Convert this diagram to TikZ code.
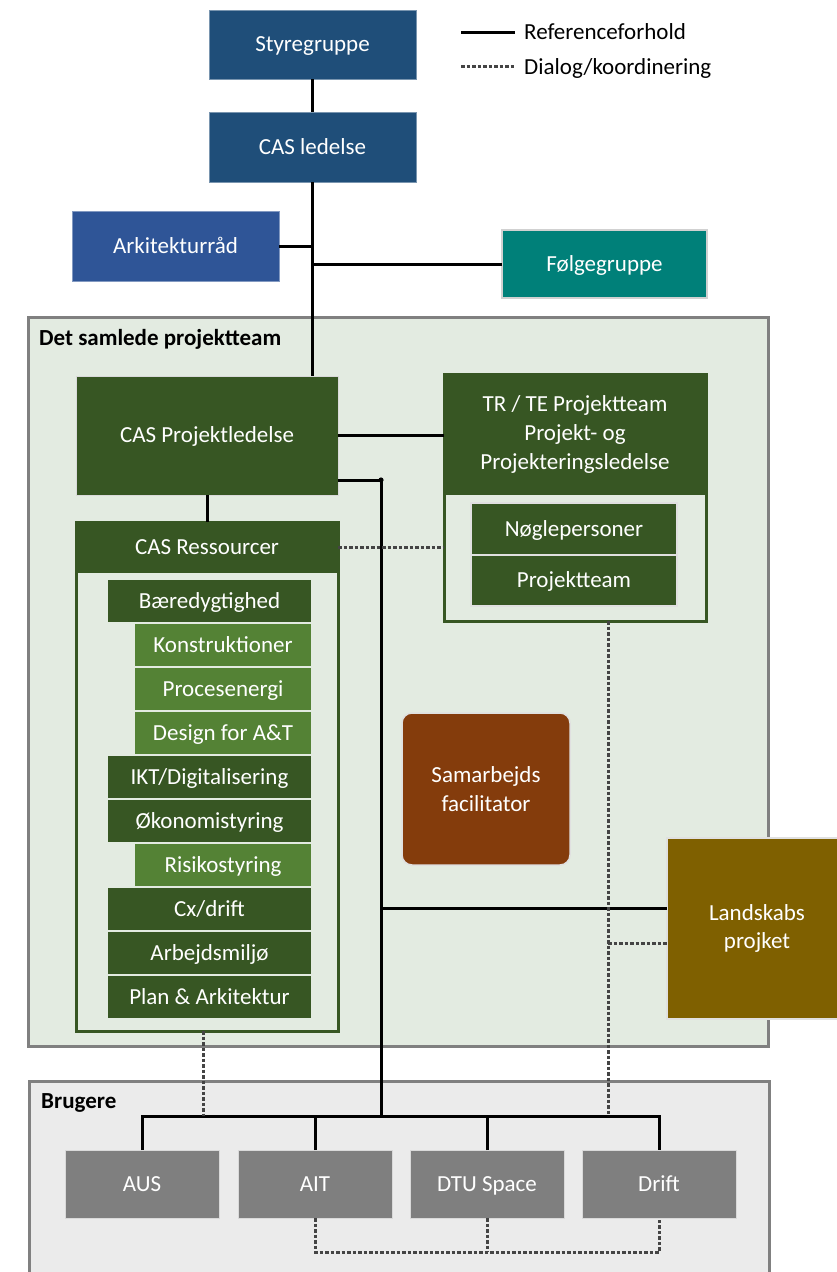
\documentclass[tikz,border=0pt]{standalone}
\usepackage{fontspec}
\setmainfont{Carlito}
\definecolor{navy}{HTML}{1F4E79}
\definecolor{arkblue}{HTML}{2F5597}
\definecolor{tealc}{HTML}{008079}
\definecolor{dkgreen}{HTML}{375623}
\definecolor{ltgreen}{HTML}{548235}
\definecolor{rust}{HTML}{843C0C}
\definecolor{olive}{HTML}{7F6000}
\definecolor{usergray}{HTML}{7F7F7F}
\definecolor{teamfill}{HTML}{E3EBE1}
\definecolor{userfill}{HTML}{EBEBEB}
\definecolor{framegray}{HTML}{808080}
\definecolor{dotgray}{HTML}{444444}
\newcommand\myfs{\fontsize{23}{28.8}\selectfont}
\tikzset{
  box/.style={anchor=north west, inner sep=0pt, outer sep=0pt, text=white, align=center, font=\myfs},
  box1/.style={box, text height=19pt, text depth=4.5pt},
  item/.style={box1, draw=teamfill, line width=1.2pt, minimum height=44pt},
  ditem/.style={item, fill=dkgreen, minimum width=205pt},
  litem/.style={item, fill=ltgreen, minimum width=178pt},
  ubox/.style={box1, fill=usergray, draw=black!15, line width=1pt, minimum width=154pt, minimum height=68pt},
  ref/.style={line width=3pt, black},
  dlg/.style={line width=3pt, dotgray, dash pattern=on 3.5pt off 2pt},
  frame/.style={line width=3pt, framegray},
  title/.style={anchor=base west, inner sep=0pt, font=\myfs\bfseries, text=black},
  legtext/.style={anchor=base west, inner sep=0pt, font=\myfs, text=black}
}
\begin{document}
\begin{tikzpicture}[x=1pt,y=-1pt]
\useasboundingbox[fill=white] (0,0) rectangle (837,1272);

% containers
\draw[frame, fill=teamfill] (28,317) rectangle (768,1046);
\node[title] (teamtitle) at (39,345) {Det samlede projektteam};
\draw[frame, fill=userfill] (29,1081) rectangle (769,1290);
\node[title] (brugtitle) at (41,1108) {Brugere};

% legend
\node[legtext] (legref) at (524,39.5) {Referenceforhold};
\node[legtext] (legdlg) at (524,74) {Dialog/koordinering};
\coordinate (legrefa) at (461,32);
\coordinate (legrefb) at (515,32);
\coordinate (legdlga) at (461,66.5);
\coordinate (legdlgb) at (515,66.5);
\draw[ref] (legrefa) -- (legrefb);
\draw[dlg] (legdlga) -- (legdlgb);

% top nodes
\node[box1, fill=navy, draw=navy!60!white, line width=1pt, minimum width=207pt, minimum height=69pt] (styre) at (209,10) {Styregruppe};
\node[box1, fill=navy, draw=navy!60!white, line width=1pt, minimum width=207pt, minimum height=70pt] (led) at (209,112) {CAS ledelse};
\node[box1, fill=arkblue, draw=arkblue!60!white, line width=1pt, minimum width=207pt, minimum height=70pt] (ark) at (72,211) {Arkitekturråd};
\node[box1, fill=tealc, draw=black!18, line width=1.5pt, minimum width=205pt, minimum height=68pt] (folg) at (502,230) {Følgegruppe};

% project team
\node[box1, fill=dkgreen, draw=black!15, line width=1pt, minimum width=262pt, minimum height=119pt] (pl) at (76,376) {CAS Projektledelse};

\node[box, fill=teamfill, draw=dkgreen, line width=3pt, minimum width=262pt, minimum height=247pt] (trouter) at (444,374) {};
\node[box, fill=dkgreen, minimum width=262pt, minimum height=121pt] (trhead) at (444,374) {TR / TE Projektteam\\Projekt- og\\Projekteringsledelse};
\node[box1, fill=dkgreen, draw=black!12, line width=1.5pt, minimum width=206pt, minimum height=52pt] (noegle) at (471,503) {Nøglepersoner};
\node[box1, fill=dkgreen, draw=black!12, line width=1.5pt, minimum width=206pt, minimum height=51pt] (ptm) at (471,555) {Projektteam};

\node[box, fill=teamfill, draw=dkgreen, line width=3pt, minimum width=262pt, minimum height=509pt] (ressouter) at (76,522) {};
\node[box1, fill=dkgreen, minimum width=262pt, minimum height=51pt] (resshead) at (76,522) {CAS Ressourcer};

\node[ditem] (i1) at (107,579) {Bæredygtighed};
\node[litem] (i2) at (134,623) {Konstruktioner};
\node[litem] (i3) at (134,667) {Procesenergi};
\node[litem] (i4) at (134,711) {Design for A\&T};
\node[ditem] (i5) at (107,755) {IKT/Digitalisering};
\node[ditem] (i6) at (107,799) {Økonomistyring};
\node[litem] (i7) at (134,843) {Risikostyring};
\node[ditem] (i8) at (107,887) {Cx/drift};
\node[ditem] (i9) at (107,931) {Arbejdsmiljø};
\node[ditem] (i10) at (107,975) {Plan \& Arkitektur};

\node[box, fill=rust, draw=black!12, line width=1.5pt, rounded corners=10pt, minimum width=168pt, minimum height=152pt] (samarb) at (402,713) {Samarbejds\\facilitator};
\node[box, fill=olive, draw=black!12, line width=1.5pt, minimum width=180pt, minimum height=181pt, text width=170pt] (landsk) at (667,838) {Landskabs\\projket};

% users
\node[ubox] (aus) at (65,1150) {AUS};
\node[ubox] (ait) at (238,1150) {AIT};
\node[ubox] (dtu) at (410,1150) {DTU Space};
\node[ubox] (drift) at (582,1150) {Drift};

% coordinates
\coordinate (knob) at (381,480);
\coordinate (ubar) at (381,1116);
\coordinate (lkin) at (667,908);
\coordinate (trdot) at (608,621);
\coordinate (lkdot) at (667,943);
\coordinate (ressdot) at (203,1031);
\coordinate (ubot) at (0,1252);

% reference lines
\draw[ref] (styre.south) -- (led.north);
\draw[ref] (led.south) -- (led.south |- pl.north);
\draw[ref] (ark.east) -- (ark.east -| led.south);
\draw[ref] (folg.west) -- (folg.west -| led.south);
\draw[ref] (pl.east) -- (pl.east -| trhead.west);
\draw[ref] (pl.south) -- (resshead.north);
\draw[ref] (pl.east |- knob) -- (knob) -- (ubar);
\fill (knob) circle (2.6pt);
\draw[ref] (knob |- lkin) -- (lkin);
\draw[ref] (aus.north) -- (aus.north |- ubar) -- (drift.north |- ubar) -- (drift.north);
\draw[ref] (ait.north) -- (ait.north |- ubar);
\draw[ref] (dtu.north) -- (dtu.north |- ubar);

% dialog lines
\draw[dlg] (resshead.east) -- (resshead.east -| trouter.west);
\draw[dlg] (ressdot) -- (ressdot |- ubar);
\draw[dlg] (trdot) -- (trdot |- ubar);
\draw[dlg] (trdot |- lkdot) -- (lkdot);
\draw[dlg] (ait.south) -- (ait.south |- ubot) -- (drift.south |- ubot) -- (drift.south);
\draw[dlg] (dtu.south) -- (dtu.south |- ubot);
\end{tikzpicture}
\end{document}
